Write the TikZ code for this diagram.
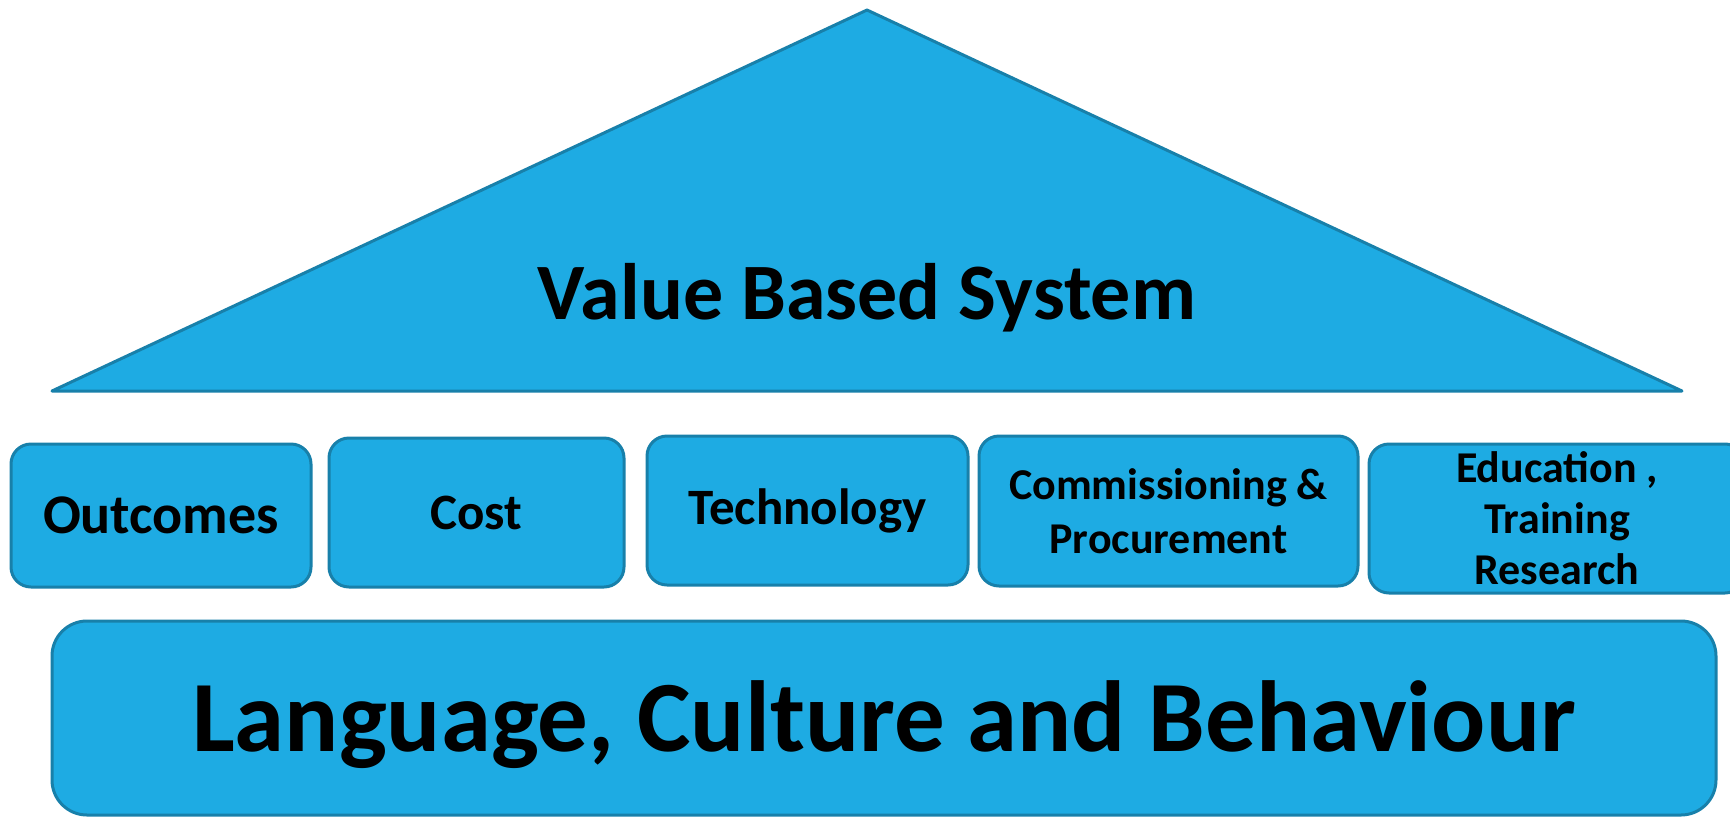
\documentclass[tikz,border=0pt]{standalone}
\usepackage{fontspec}
\setmainfont{Carlito}
\definecolor{roofblue}{RGB}{30,171,227}
\definecolor{edgeblue}{RGB}{24,128,170}
\tikzset{
  pillar/.style={draw=edgeblue,fill=roofblue,line width=3pt,rounded corners=20pt,
    inner sep=0pt,align=center,font=\bfseries},
}
\begin{document}
\begin{tikzpicture}[x=1pt,y=-1pt]
            \useasboundingbox (0,0) rectangle (1730,817);
            \draw[draw=edgeblue,fill=roofblue,line width=3pt,line join=round] (52,391) -- (867,10) -- (1682,391) -- cycle;
            \node[font=\fontsize{80}{96}\bfseries\selectfont] (roof) at (867,298) {Value Based System};
            \node[pillar,minimum width=300pt,minimum height=143pt,font=\fontsize{56}{64}\bfseries\selectfont] (outcomes) at (161,515.5) {Outcomes};
            \node[pillar,minimum width=295pt,minimum height=149pt,font=\fontsize{51}{58}\bfseries\selectfont] (cost) at (476.5,512.5) {Cost};
            \node[pillar,minimum width=321pt,minimum height=149pt,font=\fontsize{51}{58}\bfseries\selectfont] (tech) at (807.5,510.5) {Technology};
            \node[pillar,minimum width=379pt,minimum height=150pt,font=\fontsize{44}{54}\bfseries\selectfont] (procure) at (1168.5,511) {Commissioning \&\\Procurement};
            \node[pillar,minimum width=376pt,minimum height=149pt,font=\fontsize{44}{51}\bfseries\selectfont] (edu) at (1557,518.5) {Education ,\\Training\\Research};
            \node[pillar,rounded corners=35pt,minimum width=1664pt,minimum height=194pt] (base) at (884,718) {};
            \node[font=\fontsize{101}{116}\bfseries\selectfont] (basetext) at (884,725) {Language, Culture and Behaviour};
        \end{tikzpicture}
\end{document}
